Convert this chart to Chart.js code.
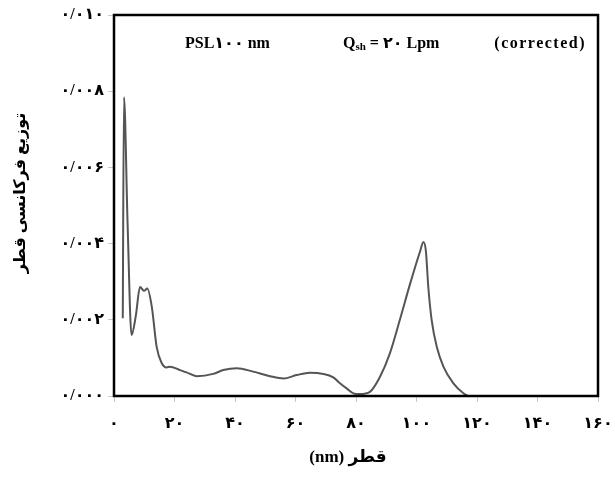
<!DOCTYPE html>
<html>
<head>
<meta charset="utf-8">
<script src="https://cdn.jsdelivr.net/npm/chart.js@4/dist/chart.umd.min.js"></script>
<style>
html,body{margin:0;padding:0;background:#fff;}
#wrap{width:615px;height:479px;}
</style>
</head>
<body>
<div id="wrap"><canvas id="c" width="615" height="479"></canvas></div>
<script>
// Diameter (nm)
const diameters = [2.9, 3.3, 4.5, 5.8, 7.2, 8.6, 9.9, 11.0, 12.5, 14.1, 15.8, 17.4, 18.5, 21.8, 24.0, 27.3, 32.8, 36.1, 40.6, 46.0, 51.6, 56.0, 60.4, 64.8, 69.2, 72.5, 74.2, 76.9, 79.5, 81.3, 84.6, 87.9, 91.2, 94.5, 97.9, 101.2, 102.3, 103.1, 103.9, 105.0, 106.7, 108.9, 112.2, 115.5, 117.0];
// Diameter frequency distribution
const frequency = [0.00204, 0.00784, 0.0045, 0.0016, 0.0021, 0.00286, 0.00276, 0.00282, 0.00234, 0.00129, 0.00086, 0.00075, 0.00077, 0.00068, 0.00062, 0.00052, 0.00058, 0.00068, 0.00073, 0.00064, 0.00052, 0.00046, 0.00055, 0.00061, 0.00058, 0.00049, 0.00037, 0.0002, 0.00006, 0.00005, 0.00011, 0.0005, 0.00112, 0.002, 0.00295, 0.0038, 0.00404, 0.0038, 0.00286, 0.002, 0.00129, 0.00077, 0.00033, 0.00007, 0.0];
const xTickLabels = ['۰','۲۰','۴۰','۶۰','۸۰','۱۰۰','۱۲۰','۱۴۰','۱۶۰'];
const yTickLabels = ['۰/۰۰۰','۰/۰۰۲','۰/۰۰۴','۰/۰۰۶','۰/۰۰۸','۰/۰۱۰'];
const xTitle = '(nm) قطر';
const yTitle = 'توزیع فرکانسی قطر';
const noteLabels = ['PSL۱۰۰ nm', 'Q', 'sh', ' = ۲۰ Lpm', '(corrected)'];

const FONT = "'Liberation Serif', 'DejaVu Sans', serif";

const frame = {
  id: 'frame',
  afterDatasetsDraw(chart) {
    const a = chart.chartArea, ctx = chart.ctx;
    ctx.save();
    ctx.strokeStyle = '#000';
    ctx.lineWidth = 2.5;
    ctx.strokeRect(a.left, a.top, a.right - a.left, a.bottom - a.top);
    ctx.fillStyle = '#000';
    ctx.textBaseline = 'alphabetic';
    ctx.font = 'bold 16px ' + FONT;
    const by = a.top + 33;
    ctx.textAlign = 'left';
    ctx.fillText(noteLabels[0], a.left + 71, by);
    let x = a.left + 229;
    ctx.fillText(noteLabels[1], x, by);
    x += ctx.measureText(noteLabels[1]).width;
    ctx.font = 'bold 11px ' + FONT;
    ctx.fillText(noteLabels[2], x, by + 2);
    x += ctx.measureText(noteLabels[2]).width;
    ctx.font = 'bold 16px ' + FONT;
    ctx.fillText(noteLabels[3], x, by);
    ctx.textAlign = 'right';
    ctx.letterSpacing = '1.5px';
    ctx.fillText(noteLabels[4], a.right - 12, by);
    ctx.letterSpacing = '0px';
    // axis titles
    ctx.textAlign = 'center';
    ctx.textBaseline = 'middle';
    ctx.font = 'bold 17px ' + FONT;
    ctx.fillText(xTitle, 348, 458);
    ctx.translate(21, 193);
    ctx.rotate(-Math.PI / 2);
    ctx.font = 'bold 16px ' + FONT;
    ctx.fillText(yTitle, 0, 0);
    ctx.restore();
  }
};

new Chart(document.getElementById('c'), {
  type: 'line',
  data: {
    datasets: [{
      data: diameters.map((d, i) => ({x: d, y: frequency[i]})),
      borderColor: '#555',
      borderWidth: 2,
      pointRadius: 0,
      fill: false,
      cubicInterpolationMode: 'monotone'
    }]
  },
  options: {
    responsive: false,
    animation: false,
    devicePixelRatio: 1,
    layout: {padding: {top: 15, right: 17, left: 0, bottom: 0}},
    plugins: {legend: {display: false}, tooltip: {enabled: false}},
    scales: {
      x: {
        type: 'linear', min: 0, max: 160,
        border: {display: false},
        grid: {drawOnChartArea: false, drawTicks: true, tickLength: 6, color: '#c8c8c8'},
        ticks: {
          stepSize: 20, color: '#000', padding: 12,
          font: {family: FONT, size: 16, weight: 'bold'},
          maxRotation: 0,
          callback: (v) => xTickLabels[Math.round(v / 20)]
        },
        afterFit: (s) => { s.height = 83; s.paddingRight = 0; s.paddingLeft = 0; }
      },
      y: {
        min: 0, max: 0.010,
        border: {display: false},
        grid: {drawOnChartArea: false, drawTicks: true, tickLength: 6, color: '#c8c8c8'},
        ticks: {
          stepSize: 0.002, color: '#000', padding: 4,
          font: {family: FONT, size: 16, weight: 'bold'},
          callback: (v) => yTickLabels[Math.round(v / 0.002)]
        },
        afterFit: (s) => { s.width = 114; s.paddingTop = 0; s.paddingBottom = 0; }
      }
    }
  },
  plugins: [frame]
});
</script>
</body>
</html>
